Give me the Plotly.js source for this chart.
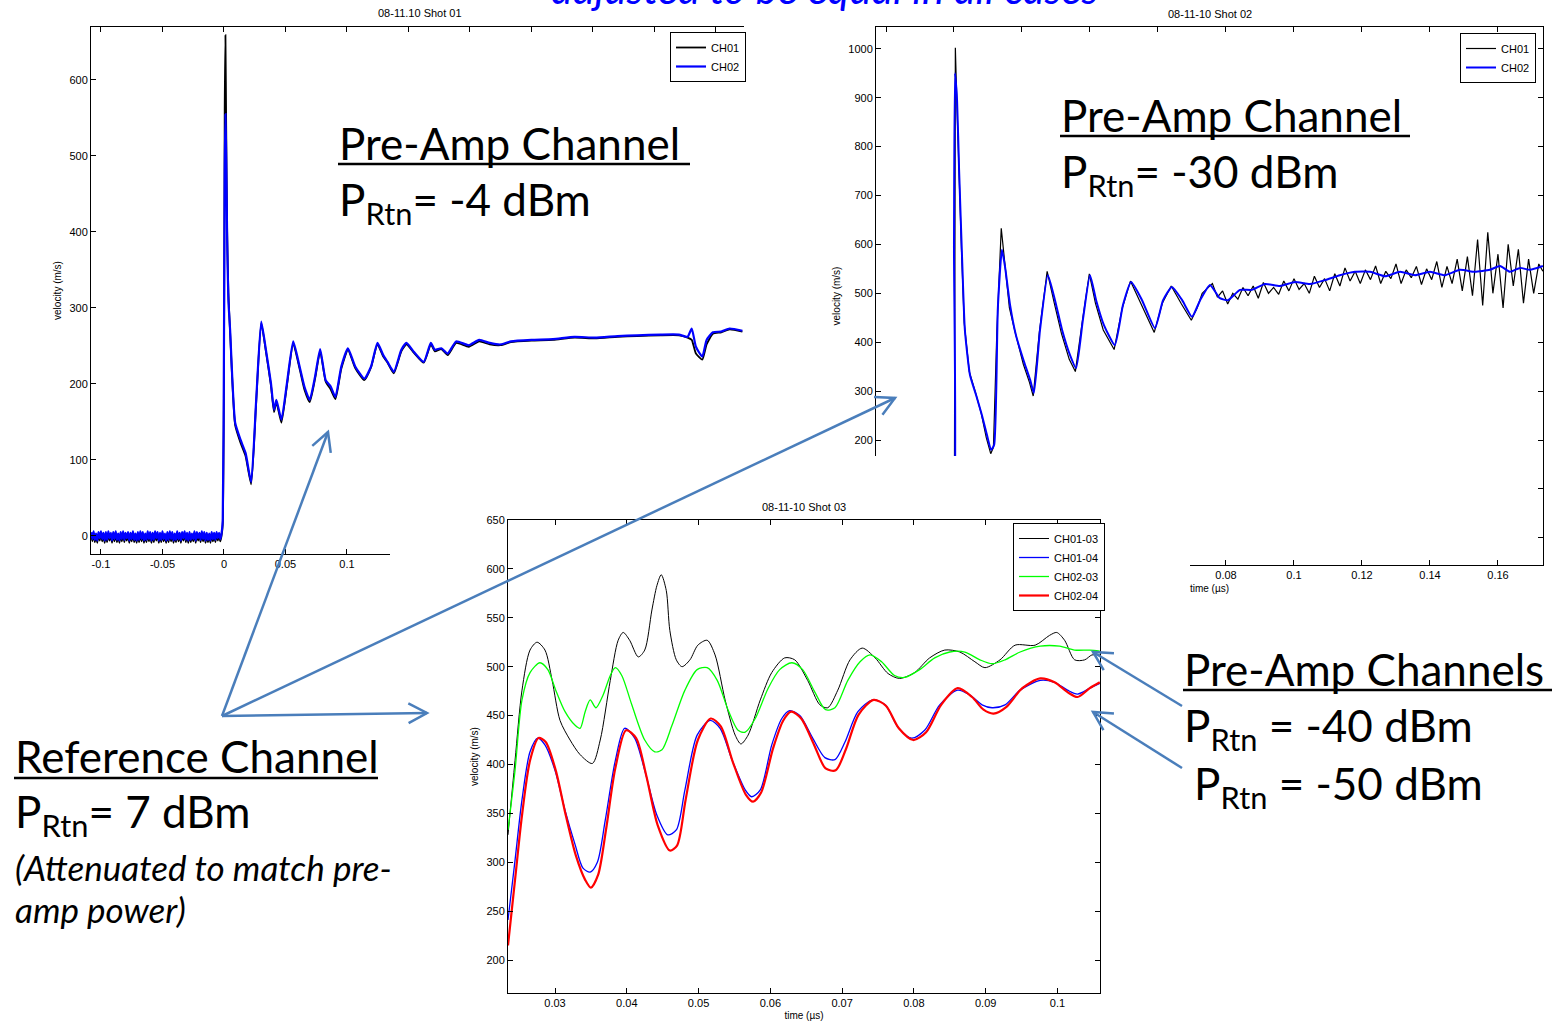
<!DOCTYPE html>
<html><head><meta charset="utf-8">
<script src="https://cdn.plot.ly/plotly-3.0.1.min.js"></script>
<style>html,body{margin:0;padding:0;background:#fff;overflow:hidden}</style>
</head><body><div id="chart" style="width:1552px;height:1025px"></div>
<script>
// ---------------- DATA ----------------
// Shot 01 (top-left)
const s1Time = [-0.108,-0.107,-0.106,-0.105,-0.104,-0.103,-0.102,-0.101,-0.100,-0.099,
 -0.098,-0.097,-0.096,-0.095,-0.094,-0.093,-0.092,-0.091,-0.090,-0.089,
 -0.088,-0.087,-0.086,-0.085,-0.084,-0.083,-0.082,-0.081,-0.080,-0.079,
 -0.078,-0.077,-0.076,-0.075,-0.074,-0.073,-0.072,-0.071,-0.070,-0.069,
 -0.068,-0.067,-0.066,-0.065,-0.064,-0.063,-0.062,-0.061,-0.060,-0.059,
 -0.058,-0.057,-0.056,-0.055,-0.054,-0.053,-0.052,-0.051,-0.050,-0.049,
 -0.048,-0.047,-0.046,-0.045,-0.044,-0.043,-0.042,-0.041,-0.040,-0.039,
 -0.038,-0.037,-0.036,-0.035,-0.034,-0.033,-0.032,-0.031,-0.030,-0.029,
 -0.028,-0.027,-0.026,-0.025,-0.024,-0.023,-0.022,-0.021,-0.020,-0.019,
 -0.018,-0.017,-0.016,-0.015,-0.014,-0.013,-0.012,-0.011,-0.010,-0.009,
 -0.008,-0.007,-0.006,-0.005,-0.004,-0.003,-0.002,
 -0.001,0.0,0.0006,0.0012,0.0018,0.0026,0.0036,
 0.0050,0.0091,0.0136,0.0176,0.0221,0.0262,0.0303,0.0341,0.0382,0.0407,
 0.0426,0.0467,0.0512,0.0563,0.0615,0.0655,0.0697,0.0741,0.0782,0.0827,
 0.0867,0.0906,0.0954,0.1008,0.1067,0.1141,0.1196,0.1248,0.1295,0.1330,
 0.1381,0.1442,0.1484,0.1545,0.1624,0.1682,0.1715,0.1767,0.1819,0.1888,
 0.1990,0.2075,0.2161,0.2250,0.2333,0.2500,0.2675,0.2850,0.3016,0.3200,
 0.3358,0.3550,0.3699,0.3769,0.3803,0.3837,0.3889,0.3924,0.3975,0.4043,
 0.4111,0.4215];
const s1Ch01 = [2,-7,3,-8,0,-9,2,-6,3,-7, 1,-9,2,-8,3,-6,1,-9,2,-7,
 3,-8,0,-9,2,-7,3,-8,1,-6, 2,-9,1,-7,3,-8,0,-9,2,-8,
 3,-7,2,-9,0,-8,3,-7,2,-9, 1,-8,3,-6,2,-9,1,-8,3,-7,
 0,-9,2,-8,3,-7,2,-9,0,-8, 3,-7,1,-9,2,-6,3,-8,1,-9,
 2,-8,0,-7,3,-9,2,-6,1,-8, 3,-7,2,-9,1,-8,0,-9,2,-7,
 1,-8,2,-6,1,-7,0,
 15,200,560,659,540,400,320,
 268,146,122,105,68,176,280,243,198,163,
 176,149,198,253,220,192,176,207,243,203,
 193,180,220,245,221,205,222,252,236,228,
 214,243,252,241,228,252,243,246,238,254,
 249,256,252,251,255,257,258,261,260,262,
 263,264,264,261,258,240,232,252,266,268,
 272,269];
const s1Ch02 = [5,-4,6,-5,3,-6,5,-3,6,-4, 4,-6,5,-5,6,-3,4,-6,5,-4,
 6,-5,3,-6,5,-4,6,-5,4,-3, 5,-6,4,-4,6,-5,3,-6,5,-5,
 6,-4,5,-6,3,-5,6,-4,5,-6, 4,-5,6,-3,5,-6,4,-5,6,-4,
 3,-6,5,-5,6,-4,5,-6,3,-5, 6,-4,4,-6,5,-3,6,-5,4,-6,
 5,-5,3,-4,6,-6,5,-3,4,-5, 6,-4,5,-6,4,-5,3,-6,5,-4,
 4,-5,5,-3,4,-4,3,
 20,250,480,555,500,390,310,
 271,149,126,109,71,179,282,245,201,166,
 179,153,201,256,223,196,179,210,246,205,
 197,183,223,247,223,207,223,254,238,229,
 216,245,254,242,229,254,245,247,240,256,
 251,258,254,252,256,258,259,262,261,263,
 264,265,265,262,273,249,236,258,268,269,
 273,270];

// Shot 02 (top-right)
const s2TimeCh01 = [-0.0229,-0.0150,-0.0080,-0.0020,0.0001,0.0002,0.0004,0.0008,0.0014,0.0022,
 0.0030,0.0045,0.0062,0.0080,0.0095,0.0108,0.0116,0.0126,0.0139,0.0149,
 0.0163,0.0180,0.0204,0.0222,0.0233,0.0251,0.0274,0.0295,0.0316,0.0339,
 0.0357,0.0377,0.0398,0.0416,0.0439,0.0471,0.0495,0.0519,0.0551,0.0589,
 0.0613,0.0639,0.0669,0.0698,0.0715,0.0730,0.0745,0.0760,0.0775,0.0790,
 0.0805,0.0820,0.0835,0.0850,0.0865,0.0880,0.0895,0.0910,0.0925,0.0940,
 0.0955,0.0970,0.0985,0.1000,0.1015,0.1030,0.1045,0.1060,0.1075,0.1090,
 0.1105,0.1120,0.1135,0.1150,0.1165,0.1180,0.1195,0.1210,0.1225,0.1240,
 0.1255,0.1270,0.1285,0.1300,0.1315,0.1330,0.1345,0.1360,0.1375,0.1390,
 0.1405,0.1420,0.1435,0.1450,0.1465,0.1480,0.1495,0.1510,0.1525,0.1540,
 0.1555,0.1570,0.1585,0.1600,0.1615,0.1630,0.1645,0.1660,0.1675,0.1690,
 0.1705,0.1720,0.1732];
const s2Ch01 = [-3,4,-5,3,0,590,1002,900,760,590,
 440,340,300,255,205,172,185,420,633,560,
 470,420,355,318,290,420,545,480,418,365,
 340,440,540,480,425,385,470,525,478,420,
 480,515,478,445,470,500,510,520,492,505,
 478,500,488,512,495,515,490,522,500,512,
 498,525,505,530,508,520,500,535,512,530,
 505,540,515,552,525,545,520,548,528,556,
 520,545,530,560,520,548,532,555,518,550,
 528,565,512,555,520,570,505,575,495,610,
 475,625,500,580,470,600,515,590,480,570,
 500,560,545];
const s2TimeCh02 = [-0.0229,-0.0150,-0.0080,-0.0020,-0.0004,0.0000,0.0003,0.0009,0.0015,0.0024,
 0.0032,0.0047,0.0065,0.0082,0.0097,0.0109,0.0118,0.0129,0.0141,0.0150,
 0.0165,0.0182,0.0206,0.0224,0.0235,0.0253,0.0276,0.0297,0.0318,0.0341,
 0.0359,0.0379,0.0400,0.0418,0.0441,0.0473,0.0497,0.0521,0.0553,0.0591,
 0.0615,0.0641,0.0671,0.0700,0.0724,0.0753,0.0782,0.0806,0.0841,0.0876,
 0.0915,0.0959,0.1003,0.1047,0.1091,0.1135,0.1179,0.1224,0.1268,0.1312,
 0.1356,0.1400,0.1444,0.1488,0.1532,0.1576,0.1606,0.1635,0.1665,0.1694,
 0.1732];
const s2Ch02 = [2,-3,4,-2,5,600,950,895,752,568,
 425,333,292,251,210,180,190,470,589,555,
 476,415,360,323,296,425,537,486,425,374,
 347,445,537,486,435,394,476,523,486,429,
 486,513,486,452,486,517,490,486,507,507,
 519,515,523,519,527,537,544,544,535,544,
 537,544,537,548,544,548,556,544,552,548,
 556];

// Shot 03 (bottom)
const s3TimeCh0103 = [0.02345,0.02443,0.0254,0.02652,0.0275,0.0286,0.0296,0.0307,0.0321,0.0335,
 0.0352,0.0363,0.0377,0.0388,0.0395,0.0404,0.0416,0.0425,0.0435,0.0442,
 0.0448,0.0455,0.0460,0.0469,0.0477,0.0488,0.0499,0.0512,0.0523,0.0537,
 0.0551,0.0559,0.0569,0.0586,0.0602,0.0620,0.0634,0.0652,0.0669,0.0680,
 0.0694,0.0711,0.0728,0.0746,0.0764,0.0780,0.0801,0.0822,0.0843,0.0864,
 0.0885,0.0899,0.0920,0.0941,0.0969,0.0989,0.0999,0.1010,0.1024,0.1038,
 0.1048,0.1059];
const s3Ch0103 = [328,404,476,517,525,517,486,445,425,410,
 401,425,486,527,535,527,510,517,558,583,
 594,578,537,507,500,507,522,527,512,466,
 430,421,430,466,494,509,507,486,461,458,
 476,507,519,509,493,488,494,509,517,515,
 505,499,507,522,522,532,535,527,507,507,
 512,512];
const s3TimeCh0104 = [0.02345,0.02443,0.0254,0.02652,0.0276,0.0286,0.0300,0.0314,0.0328,0.0339,
 0.0349,0.0359,0.0370,0.0384,0.0397,0.0411,0.0425,0.0442,0.0457,0.0469,
 0.0481,0.0498,0.0516,0.0530,0.0547,0.0565,0.0574,0.0586,0.0602,0.0616,
 0.0627,0.0641,0.0659,0.0676,0.0690,0.0704,0.0722,0.0743,0.0760,0.0778,
 0.0797,0.0815,0.0836,0.0861,0.0878,0.0895,0.0909,0.0927,0.0948,0.0976,
 0.0996,0.1014,0.1028,0.1045,0.1059];
const s3Ch0104 = [241,302,364,413,427,420,394,353,318,294,
 290,300,343,404,437,427,394,348,328,333,
 374,430,445,437,404,374,367,374,420,447,
 455,450,427,407,405,423,454,466,461,438,
 427,435,461,476,471,461,458,461,476,486,
 484,476,472,478,483];
const s3TimeCh0203 = [0.02345,0.02443,0.0254,0.02652,0.0279,0.0290,0.0301,0.0314,0.0328,0.0335,
 0.0342,0.0349,0.0357,0.0367,0.0377,0.0384,0.0393,0.0407,0.0425,0.0439,
 0.0449,0.0463,0.0481,0.0498,0.0512,0.0526,0.0541,0.0555,0.0565,0.0579,
 0.0597,0.0613,0.0630,0.0645,0.0662,0.0677,0.0690,0.0708,0.0725,0.0739,
 0.0755,0.0773,0.0787,0.0808,0.0829,0.0850,0.0871,0.0892,0.0909,0.0927,
 0.0948,0.0976,0.1003,0.1024,0.1045,0.1059];
const s3Ch0203 = [333,394,466,494,504,497,476,454,440,437,
 454,466,458,471,491,499,491,461,425,413,
 415,440,476,497,499,486,456,435,433,447,
 478,497,504,497,474,456,458,486,505,512,
 505,491,489,497,509,515,515,507,503,507,
 515,521,521,517,517,516];
const s3TimeCh0204 = [0.02345,0.02443,0.0254,0.02652,0.0277,0.0287,0.0301,0.0315,0.0329,0.0342,
 0.0350,0.0360,0.0371,0.0384,0.0399,0.0413,0.0427,0.0443,0.0460,0.0470,
 0.0482,0.0499,0.0517,0.0531,0.0548,0.0566,0.0576,0.0587,0.0604,0.0618,
 0.0629,0.0643,0.0661,0.0677,0.0691,0.0705,0.0723,0.0744,0.0761,0.0779,
 0.0799,0.0817,0.0838,0.0861,0.0881,0.0897,0.0911,0.0929,0.0951,0.0976,
 0.0996,0.1014,0.1028,0.1045,0.1059];
const s3Ch0204 = [215,282,348,404,427,423,394,348,307,282,
 274,287,333,396,435,427,389,338,312,317,
 364,425,447,439,402,369,362,371,417,445,
 454,447,420,396,394,415,451,466,460,437,
 425,433,461,478,469,456,452,459,478,488,
 484,474,469,478,484];

// Tick positions and labels ('' where the label is hidden under the pasted plot)
const s1XTicks = [-0.1,-0.05,0,0.05,0.1,0.15,0.2,0.25,0.3,0.35,0.4];
const s1XLabels = ['-0.1','-0.05','0','0.05','0.1','','','','','',''];
const s1YTicks = [0,100,200,300,400,500,600];
const s1YLabels = ['0','100','200','300','400','500','600'];
const s2XTicks = [-0.02,0,0.02,0.04,0.06,0.08,0.1,0.12,0.14,0.16];
const s2XLabels = ['','','','','','0.08','0.1','0.12','0.14','0.16'];
const s2YTicks = [0,100,200,300,400,500,600,700,800,900,1000];
const s2YLabels = ['','','200','300','400','500','600','700','800','900','1000'];
const s3XTicks = [0.03,0.04,0.05,0.06,0.07,0.08,0.09,0.1];
const s3XLabels = ['0.03','0.04','0.05','0.06','0.07','0.08','0.09','0.1'];
const s3YTicks = [200,250,300,350,400,450,500,550,600,650];
const s3YLabels = ['200','250','300','350','400','450','500','550','600','650'];

// ---------------- LAYOUT HELPERS ----------------
const W = 1552, H = 1025;
const px = v => v / W;
const py = v => 1 - v / H;
const AX_FONT = 'Liberation Sans, Arial, sans-serif';
const SLIDE_FONT = 'Lato, Calibri, sans-serif';

function axisStyle(extra) {
  return Object.assign({
    showline: true, linecolor: '#000', linewidth: 1,
    ticks: 'inside', ticklen: 5, tickwidth: 1, tickcolor: '#000',
    showgrid: false, zeroline: false, fixedrange: true,
    tickfont: {family: AX_FONT, size: 11, color: '#000'}
  }, extra);
}
function axTitle(text, standoff) {
  return {text: text, standoff: standoff, font: {family: AX_FONT, size: 10, color: '#000'}};
}
function legendStyle(x, y) {
  return {x: px(x), y: py(y), xanchor: 'left', yanchor: 'top', bgcolor: '#fff',
    bordercolor: '#000', borderwidth: 1, tracegroupgap: 0, itemwidth: 30,
    font: {family: AX_FONT, size: 11, color: '#000'}};
}
function txt(text, left, top, size, extra) {
  return Object.assign({text: text, x: px(left), y: py(top), xref: 'paper', yref: 'paper',
    xanchor: 'left', yanchor: 'top', showarrow: false, align: 'left', borderpad: 0,
    font: {family: SLIDE_FONT, size: size, color: '#000'}}, extra || {});
}
function chartTitle(text, cx, cy) {
  return {text: text, x: px(cx), y: py(cy), xref: 'paper', yref: 'paper', xanchor: 'center',
    yanchor: 'middle', showarrow: false, font: {family: AX_FONT, size: 11, color: '#000'}};
}
const ARROW = '#4A7EBB';
function line(x0, y0, x1, y1, color, width) {
  return {type: 'line', xref: 'paper', yref: 'paper', x0: px(x0), y0: py(y0), x1: px(x1), y1: py(y1),
    layer: 'above', line: {color: color, width: width}};
}
function arrow(tx, ty, hx, hy) {
  const dx = tx - hx, dy = ty - hy, len = Math.hypot(dx, dy);
  const ux = dx / len, uy = dy / len, L = 21, a = 28 * Math.PI / 180;
  const c = Math.cos(a), s = Math.sin(a);
  const a1 = [hx + L * (ux * c - uy * s), hy + L * (ux * s + uy * c)];
  const a2 = [hx + L * (ux * c + uy * s), hy + L * (-ux * s + uy * c)];
  return [line(tx, ty, hx, hy, ARROW, 2.5),
    {type: 'path', xref: 'paper', yref: 'paper', layer: 'above',
     path: 'M' + px(a1[0]) + ',' + py(a1[1]) + ' L' + px(hx) + ',' + py(hy) + ' L' + px(a2[0]) + ',' + py(a2[1]),
     line: {color: ARROW, width: 2.5}}];
}

// ---------------- TRACES ----------------
const traces = [
  {x: s1Time, y: s1Ch01, name: 'CH01', xaxis: 'x', yaxis: 'y', legend: 'legend', mode: 'lines', line: {color: '#000', width: 1.8, shape: 'spline', smoothing: 0.5}},
  {x: s1Time, y: s1Ch02, name: 'CH02', xaxis: 'x', yaxis: 'y', legend: 'legend', mode: 'lines', line: {color: '#0000FF', width: 2.2, shape: 'spline', smoothing: 0.5}},
  {x: s2TimeCh01, y: s2Ch01, name: 'CH01', xaxis: 'x2', yaxis: 'y2', legend: 'legend2', mode: 'lines', line: {color: '#000', width: 1.2}},
  {x: s2TimeCh02, y: s2Ch02, name: 'CH02', xaxis: 'x2', yaxis: 'y2', legend: 'legend2', mode: 'lines', line: {color: '#0000FF', width: 2, shape: 'spline', smoothing: 0.5}},
  {x: [], y: [], xaxis: 'x3', yaxis: 'y3', showlegend: false, hoverinfo: 'skip', mode: 'lines'},
  {x: s3TimeCh0103, y: s3Ch0103, name: 'CH01-03', xaxis: 'x4', yaxis: 'y4', legend: 'legend3', mode: 'lines', line: {color: '#000', width: 1, shape: 'spline', smoothing: 0.8}},
  {x: s3TimeCh0104, y: s3Ch0104, name: 'CH01-04', xaxis: 'x4', yaxis: 'y4', legend: 'legend3', mode: 'lines', line: {color: '#0000FF', width: 1.3, shape: 'spline', smoothing: 0.8}},
  {x: s3TimeCh0203, y: s3Ch0203, name: 'CH02-03', xaxis: 'x4', yaxis: 'y4', legend: 'legend3', mode: 'lines', line: {color: '#00FF00', width: 1.3, shape: 'spline', smoothing: 0.8}},
  {x: s3TimeCh0204, y: s3Ch0204, name: 'CH02-04', xaxis: 'x4', yaxis: 'y4', legend: 'legend3', mode: 'lines', line: {color: '#FF0000', width: 2.2, shape: 'spline', smoothing: 0.8}}
];

// ---------------- LAYOUT ----------------
const layout = {
  width: W, height: H, margin: {l: 0, r: 0, t: 0, b: 0, pad: 0},
  paper_bgcolor: '#fff', plot_bgcolor: '#fff', showlegend: true, hovermode: false,
  xaxis: axisStyle({domain: [px(91), px(744)], range: [-0.1081, 0.4228], anchor: 'y', mirror: 'ticks',
    tickmode: 'array', tickvals: s1XTicks, ticktext: s1XLabels}),
  yaxis: axisStyle({domain: [py(554), py(27)], range: [-23.7, 669.7], anchor: 'x', mirror: false,
    tickmode: 'array', tickvals: s1YTicks, ticktext: s1YLabels, title: axTitle('velocity (m/s)', 5)}),
  xaxis2: axisStyle({domain: [px(876), px(1543)], range: [-0.02294, 0.17324], anchor: 'y2', mirror: 'ticks',
    tickmode: 'array', tickvals: s2XTicks, ticktext: s2XLabels, title: axTitle('time (µs)', 4)}),
  yaxis2: axisStyle({domain: [py(565), py(27)], range: [-55.6, 1044.6], anchor: 'x2', mirror: 'ticks',
    tickmode: 'array', tickvals: s2YTicks, ticktext: s2YLabels, title: axTitle('velocity (m/s)', 5)}),
  xaxis3: {domain: [px(390), px(1190)], range: [0, 1], anchor: 'y3', visible: false, fixedrange: true},
  yaxis3: {domain: [0, py(456)], range: [0, 1], anchor: 'x3', visible: false, fixedrange: true},
  xaxis4: axisStyle({domain: [px(508), px(1100)], range: [0.02345, 0.10593], anchor: 'y4', mirror: 'ticks',
    tickmode: 'array', tickvals: s3XTicks, ticktext: s3XLabels, title: axTitle('time (µs)', 3)}),
  yaxis4: axisStyle({domain: [py(993), py(520)], range: [166.3, 650], anchor: 'x4', mirror: 'ticks',
    tickmode: 'array', tickvals: s3YTicks, ticktext: s3YLabels, title: axTitle('velocity (m/s)', 5)}),
  legend: legendStyle(670, 32),
  legend2: legendStyle(1460, 33),
  legend3: legendStyle(1013, 523),
  annotations: [
    chartTitle('08-11.10 Shot 01', 420, 13),
    chartTitle('08-11-10 Shot 02', 1210, 14),
    chartTitle('08-11-10 Shot 03', 804, 507),
    txt('adjusted to be equal in all cases', 550, -38, 42, {font: {family: SLIDE_FONT, size: 42, color: '#0000FF', style: 'italic'}}),
    txt('Pre-Amp Channel', 338, 116, 44),
    txt('P<sub>Rtn</sub>= -4 dBm', 338, 172, 44),
    txt('Pre-Amp Channel', 1060, 88, 44),
    txt('P<sub>Rtn</sub>= -30 dBm', 1060, 144, 44),
    txt('Reference Channel', 14, 729, 44),
    txt('P<sub>Rtn</sub>= 7 dBm', 14, 784, 44),
    txt('(Attenuated to match pre-', 14, 845, 35, {font: {family: SLIDE_FONT, size: 35, color: '#000', style: 'italic'}}),
    txt('amp power)', 14, 887, 35, {font: {family: SLIDE_FONT, size: 35, color: '#000', style: 'italic'}}),
    txt('Pre-Amp Channels', 1183, 642, 44),
    txt('P<sub>Rtn</sub> = -40 dBm', 1183, 698, 44),
    txt('P<sub>Rtn</sub> = -50 dBm', 1193, 756, 44)
  ],
  shapes: [
    line(338, 164, 690, 164, '#000', 2.5),
    line(1060, 136, 1410, 136, '#000', 2.5),
    line(14, 778, 378, 778, '#000', 2.5),
    line(1183, 690, 1552, 690, '#000', 2.5)
  ].concat(arrow(222, 716, 328, 432), arrow(222, 716, 895, 398), arrow(222, 716, 427, 713),
           arrow(1182, 706, 1093, 652), arrow(1182, 768, 1093, 712))
};

Plotly.newPlot('chart', traces, layout, {staticPlot: true, displayModeBar: false});
</script></body></html>
